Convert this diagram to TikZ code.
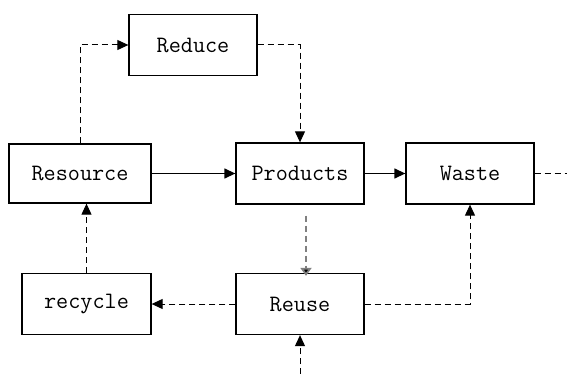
\documentclass[tikz,border=0pt]{standalone}
\usetikzlibrary{arrows.meta}

\tikzset{
	stage/.style={draw, line width=1.3pt, minimum width=128pt, minimum height=61pt,
		inner sep=0pt, font=\ttfamily\fontsize{23.5}{26}\selectfont},
	flow/.style={line width=1pt, -{Triangle[length=11pt,width=10pt]}},
	loop/.style={flow, dash pattern=on 6pt off 4pt},
}

\begin{document}
\begin{tikzpicture}[x=1pt, y=-1pt]
		\useasboundingbox (0, 0) rectangle (567, 374);

		\node[stage] (reduce) at (193, 45) {Reduce};
		\node[stage, minimum width=142pt, minimum height=59pt] (resource) at (80, 173.5) {Resource};
		\node[stage] (products) at (300, 173.5) {Products};
		\node[stage] (waste) at (470, 173.5) {Waste};
		\node[stage, minimum width=129pt] (recycle) at (86.5, 304) {recycle};
		\node[stage] (reuse) at (300, 304) {Reuse};

		\coordinate (away) at (567, 173.5);
		\coordinate (supply) at (300, 374);

		% main line
		\draw[flow, line width=1.3pt] (resource) -- (products);
		\draw[flow, line width=1.3pt] (products) -- (waste);
		\draw[line width=1pt, dash pattern=on 6pt off 4pt] (waste.east) -- (away);

		% loops
		\draw[loop] (resource.north) |- (reduce.west);
		\draw[loop] (reduce.east) -| (products.north);
		\draw[loop, draw=black!50, line width=1.8pt, -{Triangle[length=8pt,width=11pt,fill=black]}]
		([xshift=6pt, yshift=-11pt]products.south) --
		([xshift=6pt, yshift=-3pt]reuse.north);
		\draw[loop] (reuse.west) -- (recycle.east);
		\draw[loop] (reuse.east) -| (waste.south);
		\draw[loop] (recycle.north) -- (recycle.north |- resource.south);
		\draw[loop] (supply) -- (reuse.south);
	\end{tikzpicture}
\end{document}
